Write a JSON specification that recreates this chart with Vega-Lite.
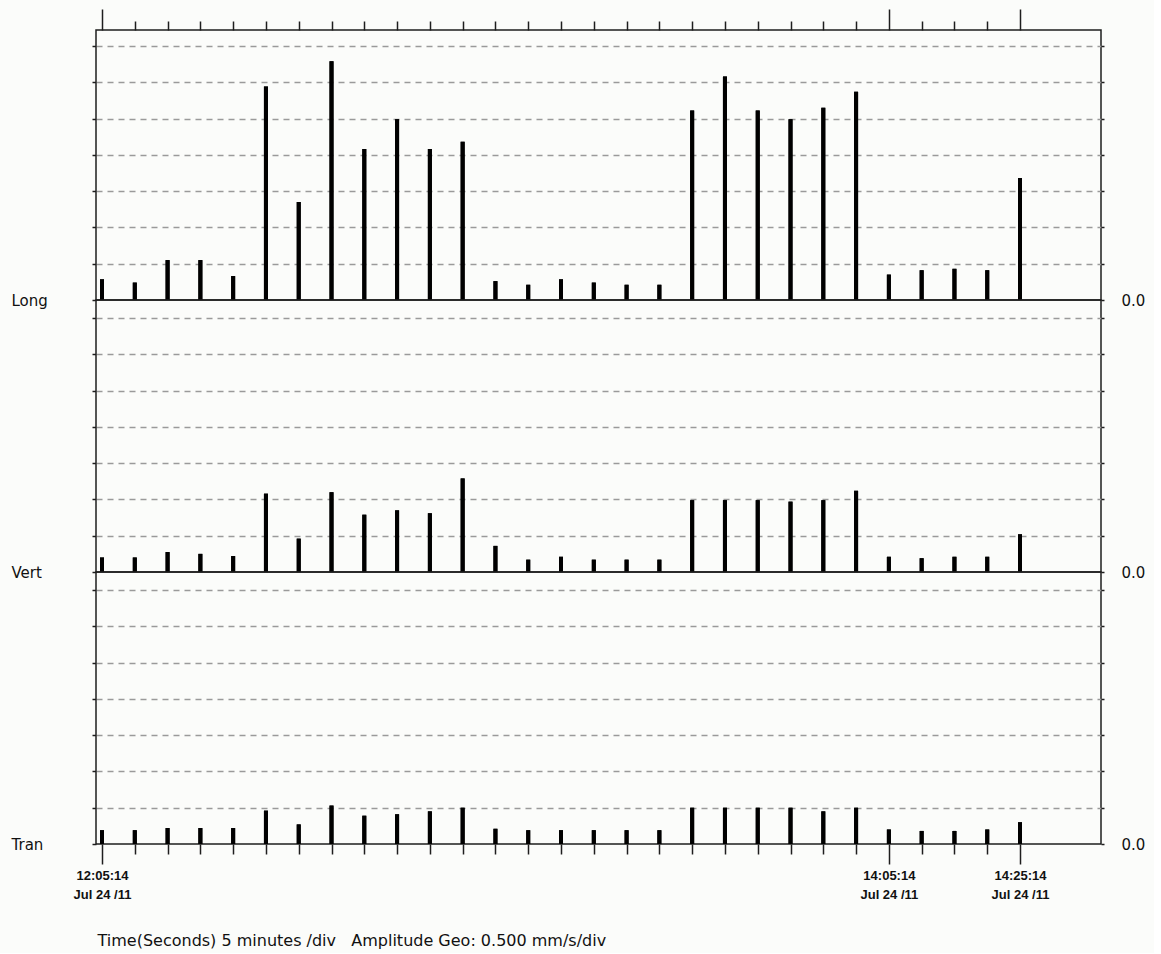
{
  "$schema": "https://vega.github.io/schema/vega-lite/v6.json",
  "background": "#fbfcfa",
  "padding": {"left": 10, "top": 7, "right": 8, "bottom": 4},
  "spacing": 0,
  "bounds": "flush",
  "config": {
    "view": {"stroke": "#1e1e1e", "strokeWidth": 1.5},
    "font": "DejaVu Sans",
    "scale": {"continuousPadding": 0},
    "axis": {"domain": false, "tickColor": "#1e1e1e", "tickWidth": 1.5, "labelColor": "#111", "title": null}
  },
  "datasets": {
    "seis": [
      {"time": "2011-07-24T12:05:14", "Long": 0.285, "Vert": 0.20, "Tran": 0.19},
      {"time": "2011-07-24T12:10:14", "Long": 0.24, "Vert": 0.20, "Tran": 0.19},
      {"time": "2011-07-24T12:15:14", "Long": 0.55, "Vert": 0.275, "Tran": 0.22},
      {"time": "2011-07-24T12:20:14", "Long": 0.55, "Vert": 0.25, "Tran": 0.22},
      {"time": "2011-07-24T12:25:14", "Long": 0.33, "Vert": 0.22, "Tran": 0.22},
      {"time": "2011-07-24T12:30:14", "Long": 2.94, "Vert": 1.08, "Tran": 0.46},
      {"time": "2011-07-24T12:35:14", "Long": 1.35, "Vert": 0.46, "Tran": 0.27},
      {"time": "2011-07-24T12:40:14", "Long": 3.29, "Vert": 1.10, "Tran": 0.53},
      {"time": "2011-07-24T12:45:14", "Long": 2.08, "Vert": 0.79, "Tran": 0.39},
      {"time": "2011-07-24T12:50:14", "Long": 2.49, "Vert": 0.85, "Tran": 0.41},
      {"time": "2011-07-24T12:55:14", "Long": 2.08, "Vert": 0.81, "Tran": 0.45},
      {"time": "2011-07-24T13:00:14", "Long": 2.18, "Vert": 1.29, "Tran": 0.50},
      {"time": "2011-07-24T13:05:14", "Long": 0.26, "Vert": 0.36, "Tran": 0.21},
      {"time": "2011-07-24T13:10:14", "Long": 0.21, "Vert": 0.17, "Tran": 0.19},
      {"time": "2011-07-24T13:15:14", "Long": 0.285, "Vert": 0.21, "Tran": 0.19},
      {"time": "2011-07-24T13:20:14", "Long": 0.24, "Vert": 0.17, "Tran": 0.19},
      {"time": "2011-07-24T13:25:14", "Long": 0.21, "Vert": 0.17, "Tran": 0.19},
      {"time": "2011-07-24T13:30:14", "Long": 0.21, "Vert": 0.17, "Tran": 0.19},
      {"time": "2011-07-24T13:35:14", "Long": 2.61, "Vert": 0.99, "Tran": 0.50},
      {"time": "2011-07-24T13:40:14", "Long": 3.08, "Vert": 0.99, "Tran": 0.50},
      {"time": "2011-07-24T13:45:14", "Long": 2.61, "Vert": 0.99, "Tran": 0.50},
      {"time": "2011-07-24T13:50:14", "Long": 2.49, "Vert": 0.97, "Tran": 0.50},
      {"time": "2011-07-24T13:55:14", "Long": 2.65, "Vert": 0.99, "Tran": 0.45},
      {"time": "2011-07-24T14:00:14", "Long": 2.87, "Vert": 1.12, "Tran": 0.50},
      {"time": "2011-07-24T14:05:14", "Long": 0.35, "Vert": 0.21, "Tran": 0.20},
      {"time": "2011-07-24T14:10:14", "Long": 0.41, "Vert": 0.19, "Tran": 0.18},
      {"time": "2011-07-24T14:15:14", "Long": 0.43, "Vert": 0.21, "Tran": 0.18},
      {"time": "2011-07-24T14:20:14", "Long": 0.41, "Vert": 0.21, "Tran": 0.20},
      {"time": "2011-07-24T14:25:14", "Long": 1.68, "Vert": 0.52, "Tran": 0.30}
    ]
  },
  "vconcat": [
    {
      "width": 1005, "height": 270,
      "data": {"name": "seis"},
      "layer": [
        {
          "mark": {"type": "bar", "width": 4, "color": "#000"},
          "encoding": {
            "x": {"field": "time", "type": "temporal",
              "scale": {"nice": false, "padding": 0, "domain": [{"year": 2011, "month": 7, "date": 24, "hours": 12, "minutes": 4, "seconds": 19}, {"year": 2011, "month": 7, "date": 24, "hours": 14, "minutes": 37, "seconds": 35}]},
              "axis": {"orient": "top", "labels": false, "grid": false, "tickCount": 60,
                "values": [
                  {"year": 2011, "month": 7, "date": 24, "hours": 12, "minutes": 5, "seconds": 14},
                  {"year": 2011, "month": 7, "date": 24, "hours": 12, "minutes": 10, "seconds": 14},
                  {"year": 2011, "month": 7, "date": 24, "hours": 12, "minutes": 15, "seconds": 14},
                  {"year": 2011, "month": 7, "date": 24, "hours": 12, "minutes": 20, "seconds": 14},
                  {"year": 2011, "month": 7, "date": 24, "hours": 12, "minutes": 25, "seconds": 14},
                  {"year": 2011, "month": 7, "date": 24, "hours": 12, "minutes": 30, "seconds": 14},
                  {"year": 2011, "month": 7, "date": 24, "hours": 12, "minutes": 35, "seconds": 14},
                  {"year": 2011, "month": 7, "date": 24, "hours": 12, "minutes": 40, "seconds": 14},
                  {"year": 2011, "month": 7, "date": 24, "hours": 12, "minutes": 45, "seconds": 14},
                  {"year": 2011, "month": 7, "date": 24, "hours": 12, "minutes": 50, "seconds": 14},
                  {"year": 2011, "month": 7, "date": 24, "hours": 12, "minutes": 55, "seconds": 14},
                  {"year": 2011, "month": 7, "date": 24, "hours": 13, "minutes": 0, "seconds": 14},
                  {"year": 2011, "month": 7, "date": 24, "hours": 13, "minutes": 5, "seconds": 14},
                  {"year": 2011, "month": 7, "date": 24, "hours": 13, "minutes": 10, "seconds": 14},
                  {"year": 2011, "month": 7, "date": 24, "hours": 13, "minutes": 15, "seconds": 14},
                  {"year": 2011, "month": 7, "date": 24, "hours": 13, "minutes": 20, "seconds": 14},
                  {"year": 2011, "month": 7, "date": 24, "hours": 13, "minutes": 25, "seconds": 14},
                  {"year": 2011, "month": 7, "date": 24, "hours": 13, "minutes": 30, "seconds": 14},
                  {"year": 2011, "month": 7, "date": 24, "hours": 13, "minutes": 35, "seconds": 14},
                  {"year": 2011, "month": 7, "date": 24, "hours": 13, "minutes": 40, "seconds": 14},
                  {"year": 2011, "month": 7, "date": 24, "hours": 13, "minutes": 45, "seconds": 14},
                  {"year": 2011, "month": 7, "date": 24, "hours": 13, "minutes": 50, "seconds": 14},
                  {"year": 2011, "month": 7, "date": 24, "hours": 13, "minutes": 55, "seconds": 14},
                  {"year": 2011, "month": 7, "date": 24, "hours": 14, "minutes": 0, "seconds": 14},
                  {"year": 2011, "month": 7, "date": 24, "hours": 14, "minutes": 5, "seconds": 14},
                  {"year": 2011, "month": 7, "date": 24, "hours": 14, "minutes": 10, "seconds": 14},
                  {"year": 2011, "month": 7, "date": 24, "hours": 14, "minutes": 15, "seconds": 14},
                  {"year": 2011, "month": 7, "date": 24, "hours": 14, "minutes": 20, "seconds": 14},
                  {"year": 2011, "month": 7, "date": 24, "hours": 14, "minutes": 25, "seconds": 14}
                ],
                "tickSize": {"condition": {"test": "indexof([725,845,865], hours(datum.value)*60+minutes(datum.value)) >= 0", "value": 21}, "value": 9}
              }
            },
            "y": {"field": "Long", "type": "quantitative",
              "scale": {"domain": [0, 3.72], "nice": false},
              "axis": {"orient": "left", "values": [0, 0.5, 1, 1.5, 2, 2.5, 3, 3.5], "grid": true,
                "gridDash": [6, 5], "gridColor": "#9a9a9a", "gridWidth": 1.5,
                "gridOpacity": {"condition": {"test": "datum.value == 0", "value": 0}, "value": 1},
                "tickSize": 4, "labelExpr": "datum.value == 0 ? 'Long' : ''",
                "labelAlign": "left", "labelPadding": 81, "labelBaseline": "middle", "labelFontSize": 15}
            }
          }
        },
        {
          "mark": {"type": "bar", "width": 4, "color": "#000"},
          "encoding": {
            "x": {"field": "time", "type": "temporal"},
            "y": {"field": "Long", "type": "quantitative",
              "axis": {"orient": "right", "values": [0, 0.5, 1, 1.5, 2, 2.5, 3, 3.5], "grid": false,
                "tickSize": 3, "labelExpr": "datum.value == 0 ? '0.0' : ''",
                "labelPadding": 17, "labelBaseline": "middle", "labelFontSize": 15}
            }
          }
        }
      ],
      "resolve": {"axis": {"y": "independent"}}
    },
    {
      "width": 1005, "height": 272,
      "data": {"name": "seis"},
      "layer": [
        {
          "mark": {"type": "bar", "width": 4, "color": "#000"},
          "encoding": {
            "x": {"field": "time", "type": "temporal",
              "scale": {"nice": false, "padding": 0, "domain": [{"year": 2011, "month": 7, "date": 24, "hours": 12, "minutes": 4, "seconds": 19}, {"year": 2011, "month": 7, "date": 24, "hours": 14, "minutes": 37, "seconds": 35}]},
              "axis": null},
            "y": {"field": "Vert", "type": "quantitative",
              "scale": {"domain": [0, 3.75], "nice": false},
              "axis": {"orient": "left", "values": [0, 0.5, 1, 1.5, 2, 2.5, 3, 3.5], "grid": true,
                "gridDash": [6, 5], "gridColor": "#9a9a9a", "gridWidth": 1.5,
                "gridOpacity": {"condition": {"test": "datum.value == 0", "value": 0}, "value": 1},
                "tickSize": 4, "labelExpr": "datum.value == 0 ? 'Vert' : ''",
                "labelAlign": "left", "labelPadding": 81, "labelBaseline": "middle", "labelFontSize": 15}
            }
          }
        },
        {
          "mark": {"type": "bar", "width": 4, "color": "#000"},
          "encoding": {
            "x": {"field": "time", "type": "temporal"},
            "y": {"field": "Vert", "type": "quantitative",
              "axis": {"orient": "right", "values": [0, 0.5, 1, 1.5, 2, 2.5, 3, 3.5], "grid": false,
                "tickSize": 3, "labelExpr": "datum.value == 0 ? '0.0' : ''",
                "labelPadding": 17, "labelBaseline": "middle", "labelFontSize": 15}
            }
          }
        }
      ],
      "resolve": {"axis": {"y": "independent"}}
    },
    {
      "width": 1005, "height": 272,
      "data": {"name": "seis"},
      "layer": [
        {
          "mark": {"type": "bar", "width": 4, "color": "#000"},
          "encoding": {
            "x": {"field": "time", "type": "temporal",
              "scale": {"nice": false, "padding": 0, "domain": [{"year": 2011, "month": 7, "date": 24, "hours": 12, "minutes": 4, "seconds": 19}, {"year": 2011, "month": 7, "date": 24, "hours": 14, "minutes": 37, "seconds": 35}]},
              "axis": {"orient": "bottom", "grid": false, "tickCount": 60,
                "values": [
                  {"year": 2011, "month": 7, "date": 24, "hours": 12, "minutes": 5, "seconds": 14},
                  {"year": 2011, "month": 7, "date": 24, "hours": 12, "minutes": 10, "seconds": 14},
                  {"year": 2011, "month": 7, "date": 24, "hours": 12, "minutes": 15, "seconds": 14},
                  {"year": 2011, "month": 7, "date": 24, "hours": 12, "minutes": 20, "seconds": 14},
                  {"year": 2011, "month": 7, "date": 24, "hours": 12, "minutes": 25, "seconds": 14},
                  {"year": 2011, "month": 7, "date": 24, "hours": 12, "minutes": 30, "seconds": 14},
                  {"year": 2011, "month": 7, "date": 24, "hours": 12, "minutes": 35, "seconds": 14},
                  {"year": 2011, "month": 7, "date": 24, "hours": 12, "minutes": 40, "seconds": 14},
                  {"year": 2011, "month": 7, "date": 24, "hours": 12, "minutes": 45, "seconds": 14},
                  {"year": 2011, "month": 7, "date": 24, "hours": 12, "minutes": 50, "seconds": 14},
                  {"year": 2011, "month": 7, "date": 24, "hours": 12, "minutes": 55, "seconds": 14},
                  {"year": 2011, "month": 7, "date": 24, "hours": 13, "minutes": 0, "seconds": 14},
                  {"year": 2011, "month": 7, "date": 24, "hours": 13, "minutes": 5, "seconds": 14},
                  {"year": 2011, "month": 7, "date": 24, "hours": 13, "minutes": 10, "seconds": 14},
                  {"year": 2011, "month": 7, "date": 24, "hours": 13, "minutes": 15, "seconds": 14},
                  {"year": 2011, "month": 7, "date": 24, "hours": 13, "minutes": 20, "seconds": 14},
                  {"year": 2011, "month": 7, "date": 24, "hours": 13, "minutes": 25, "seconds": 14},
                  {"year": 2011, "month": 7, "date": 24, "hours": 13, "minutes": 30, "seconds": 14},
                  {"year": 2011, "month": 7, "date": 24, "hours": 13, "minutes": 35, "seconds": 14},
                  {"year": 2011, "month": 7, "date": 24, "hours": 13, "minutes": 40, "seconds": 14},
                  {"year": 2011, "month": 7, "date": 24, "hours": 13, "minutes": 45, "seconds": 14},
                  {"year": 2011, "month": 7, "date": 24, "hours": 13, "minutes": 50, "seconds": 14},
                  {"year": 2011, "month": 7, "date": 24, "hours": 13, "minutes": 55, "seconds": 14},
                  {"year": 2011, "month": 7, "date": 24, "hours": 14, "minutes": 0, "seconds": 14},
                  {"year": 2011, "month": 7, "date": 24, "hours": 14, "minutes": 5, "seconds": 14},
                  {"year": 2011, "month": 7, "date": 24, "hours": 14, "minutes": 10, "seconds": 14},
                  {"year": 2011, "month": 7, "date": 24, "hours": 14, "minutes": 15, "seconds": 14},
                  {"year": 2011, "month": 7, "date": 24, "hours": 14, "minutes": 20, "seconds": 14},
                  {"year": 2011, "month": 7, "date": 24, "hours": 14, "minutes": 25, "seconds": 14}
                ],
                "tickSize": {"condition": {"test": "indexof([725,845,865], hours(datum.value)*60+minutes(datum.value)) >= 0", "value": 20}, "value": 10},
                "labelExpr": "indexof([725,845,865], hours(datum.value)*60+minutes(datum.value)) >= 0 ? [timeFormat(datum.value, '%H:%M:%S'), 'Jul 24 /11'] : ''",
                "labelFont": "Liberation Sans", "labelFontWeight": "bold", "labelFontSize": 13, "labelLineHeight": 19, "labelPadding": 5,
                "labelOverlap": false, "labelFlush": false,
                "title": "Time(Seconds) 5 minutes /div \u00a0\u00a0Amplitude Geo: 0.500 mm/s/div",
                "titleFont": "DejaVu Sans", "titleFontWeight": "normal", "titleFontSize": 16, "titleColor": "#111",
                "titleAnchor": "start", "titleAlign": "left", "titleBaseline": "middle",
                "titleX": 1, "titleY": 96
              }
            },
            "y": {"field": "Tran", "type": "quantitative",
              "scale": {"domain": [0, 3.75], "nice": false},
              "axis": {"orient": "left", "values": [0, 0.5, 1, 1.5, 2, 2.5, 3, 3.5], "grid": true,
                "gridDash": [6, 5], "gridColor": "#9a9a9a", "gridWidth": 1.5,
                "gridOpacity": {"condition": {"test": "datum.value == 0", "value": 0}, "value": 1},
                "tickSize": 4, "labelExpr": "datum.value == 0 ? 'Tran' : ''",
                "labelAlign": "left", "labelPadding": 81, "labelBaseline": "middle", "labelFontSize": 15}
            }
          }
        },
        {
          "mark": {"type": "bar", "width": 4, "color": "#000"},
          "encoding": {
            "x": {"field": "time", "type": "temporal"},
            "y": {"field": "Tran", "type": "quantitative",
              "axis": {"orient": "right", "values": [0, 0.5, 1, 1.5, 2, 2.5, 3, 3.5], "grid": false,
                "tickSize": 3, "labelExpr": "datum.value == 0 ? '0.0' : ''",
                "labelPadding": 17, "labelBaseline": "middle", "labelFontSize": 15}
            }
          }
        }
      ],
      "resolve": {"axis": {"y": "independent"}}
    }
  ]
}
